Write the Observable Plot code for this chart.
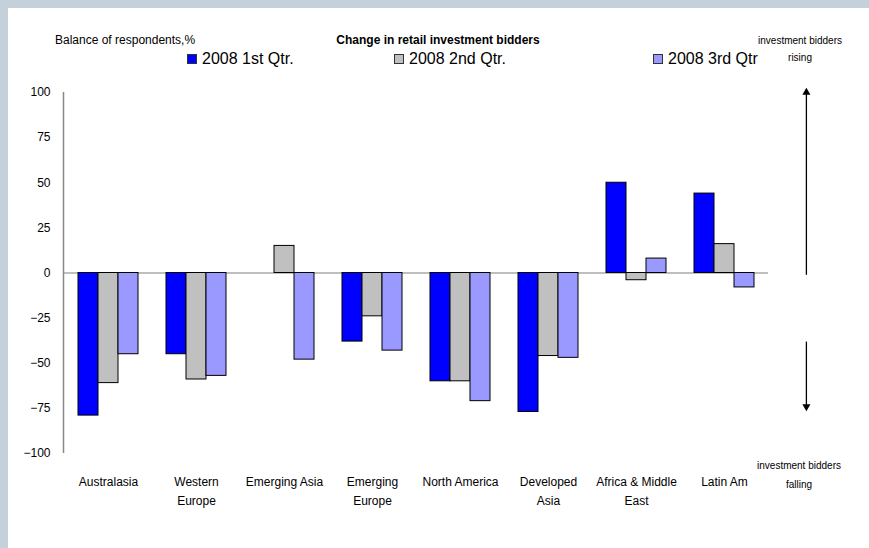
<!DOCTYPE html>
<html>
<head>
<meta charset="utf-8">
<script src="https://cdn.jsdelivr.net/npm/d3@7"></script>
<script src="https://cdn.jsdelivr.net/npm/@observablehq/plot@0.6"></script>
<style>
html, body { margin: 0; padding: 0; }
body { width: 869px; height: 548px; background: #c4d0da; position: relative; overflow: hidden;
       font-family: "Liberation Sans", Arial, sans-serif; color: #000; }
#panel { position: absolute; left: 8px; top: 8px; width: 861px; height: 540px; background: #fff; }
#chart, #overlay { position: absolute; left: 0; top: 0; }
.t { position: absolute; white-space: nowrap; line-height: 1; }
.cx { transform: translate(-50%, -50%); text-align: center; }
.cy { transform: translateY(-50%); }
#title { left: 438px; top: 40px; font-size: 12px; font-weight: bold; }
#ylabel { left: 55px; top: 40px; font-size: 12px; }
.leg { position: absolute; top: 59px; transform: translateY(-50%); display: flex; align-items: center;
       font-size: 16px; white-space: nowrap; }
.leg span.sw { display: inline-block; width: 8px; height: 8px; border: 1px solid #333; margin-right: 5px; }
.note { position: absolute; font-size: 10px; text-align: center; transform: translateX(-50%); white-space: nowrap; }
</style>
</head>
<body>
<div id="panel"></div>
<div id="chart"></div>
<div id="overlay"></div>
<div class="t cx" id="title">Change in retail investment bidders</div>
<div class="t cy" id="ylabel">Balance of respondents,%</div>
<div id="legend"></div>
<div class="note" style="left:800px; top:32px; line-height:17px;">investment bidders<br>rising</div>
<div class="note" style="left:799px; top:456px; line-height:19px;">investment bidders<br>falling</div>
<script>
// ---- data ----
const regions = ["Australasia", "Western Europe", "Emerging Asia", "Emerging Europe",
                 "North America", "Developed Asia", "Africa & Middle East", "Latin Am"];
const regionLabels = ["Australasia", "Western\nEurope", "Emerging Asia", "Emerging\nEurope",
                      "North America", "Developed\nAsia", "Africa & Middle\nEast", "Latin Am"];
const series = ["2008 1st Qtr.", "2008 2nd Qtr.", "2008 3rd Qtr"];
const q1 = [-79, -45, null, -38, -60, -77, 50, 44];
const q2 = [-61, -59, 15, -24, -60, -46, -4, 16];
const q3 = [-45, -57, -48, -43, -71, -47, 8, -8];
const colors = ["#0000ff", "#c0c0c0", "#9999ff"];
const yTicks = [-100, -75, -50, -25, 0, 25, 50, 75, 100];
// annotation arrows (in y-axis units), placed just right of the last category
const arrowX = regions.length + 0.43;
const arrows = [
  {x: arrowX, from: -1, to: 100, dir: "up"},
  {x: arrowX, from: -38, to: -74, dir: "down"}
];

const seriesValues = [q1, q2, q3];
const table = [];
regions.forEach((r, i) => series.forEach((s, j) => {
  const v = seriesValues[j][i];
  if (v != null) table.push({region: r, series: s, value: v});
}));
const labelOf = new Map(regions.map((r, i) => [r, regionLabels[i]]));

const W = 869, H = 548;
const M = {left: 63, right: 101, top: 92, bottom: 95};

const chart = Plot.plot({
  width: W, height: H,
  marginLeft: M.left, marginRight: M.right, marginTop: M.top, marginBottom: M.bottom,
  style: {background: "transparent", fontFamily: "Liberation Sans, Arial, sans-serif", fontSize: "12px", color: "#000"},
  fx: {domain: regions, padding: 0, label: null},
  x: {domain: series, paddingInner: 0, paddingOuter: 0.7, axis: null},
  y: {domain: [-100, 100], label: null},
  color: {domain: series, range: colors},
  marks: [
    Plot.ruleY([0], {stroke: "#808080", strokeWidth: 1.2}),
    Plot.barY(table, {fx: "region", x: "series", y: "value", fill: "series", stroke: "#000", strokeWidth: 1}),
    Plot.axisY({ticks: yTicks, tickSize: 0, tickPadding: 14, fontSize: 12, label: null}),
    Plot.axisFx({anchor: "bottom", tickSize: 0, tickPadding: 18, fontSize: 12, lineHeight: 1.65,
                 tickFormat: d => labelOf.get(d), label: null})
  ]
});
document.getElementById("chart").appendChild(chart);

const overlay = Plot.plot({
  width: W, height: H,
  marginLeft: M.left, marginRight: M.right, marginTop: M.top, marginBottom: M.bottom,
  style: {background: "transparent", overflow: "visible"},
  x: {domain: [0, regions.length], axis: null},
  y: {domain: [-100, 100], axis: null},
  marks: [
    Plot.ruleX([0], {stroke: "#888", strokeWidth: 1.5}),
    Plot.link(arrows, {x1: "x", x2: "x", y1: "from", y2: "to", stroke: "#000", strokeWidth: 1.3, clip: false}),
    Plot.dot(arrows, {x: "x", y: "to", symbol: "triangle", r: 3, fill: "#000", stroke: null,
                      rotate: d => d.dir === "up" ? 0 : 180, clip: false})
  ]
});
document.getElementById("overlay").appendChild(overlay);

// legend
const legendLeft = [187, 394, 653];
const legend = document.getElementById("legend");
series.forEach((s, i) => {
  const item = document.createElement("div");
  item.className = "leg";
  item.style.left = legendLeft[i] + "px";
  const sw = document.createElement("span");
  sw.className = "sw";
  sw.style.background = colors[i];
  item.appendChild(sw);
  item.appendChild(document.createTextNode(s));
  legend.appendChild(item);
});
</script>
</body>
</html>
